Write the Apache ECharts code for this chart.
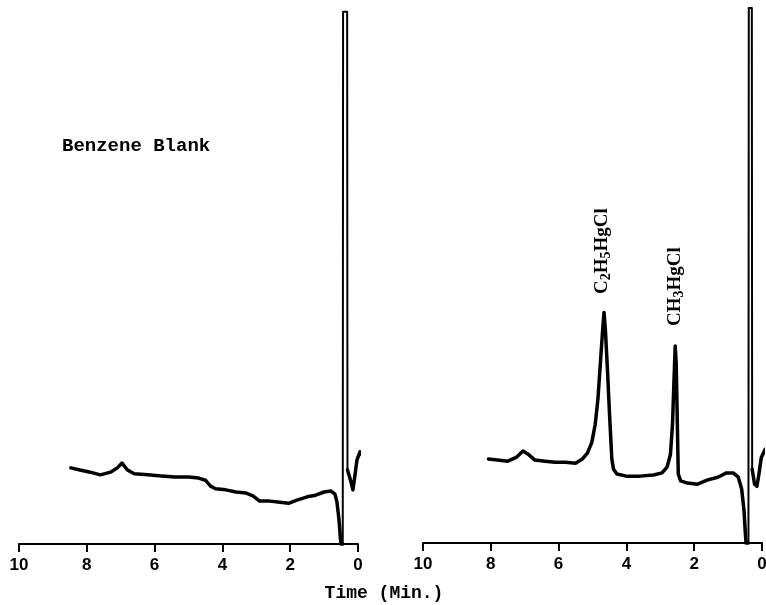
<!DOCTYPE html>
<html>
<head>
<meta charset="utf-8">
<script src="https://cdn.jsdelivr.net/npm/echarts@6/dist/echarts.min.js"></script>
<style>html,body{margin:0;padding:0;background:#fff;}#c{width:766px;height:605px;}</style>
</head>
<body>
<div id="c"></div>
<script>
// Tick labels (time, min) – axis runs from 10 down to 0
const tickValues = [10, 8, 6, 4, 2, 0];

// Left panel: Benzene Blank (time in min, detector response 0-100)
const blankTime = [8.47, 8.2, 7.9, 7.6, 7.3, 7.1, 6.96, 6.8, 6.6, 6.2, 5.8, 5.4, 5.0, 4.7, 4.5, 4.35, 4.2, 3.9, 3.6, 3.3, 3.1, 2.9, 2.6, 2.3, 2.05, 1.8, 1.5, 1.25, 1.0, 0.8, 0.68, 0.62, 0.56, 0.52, 0.50, 0.45, 0.44, 0.32, 0.31, 0.22, 0.15, 0.10, 0.03, -0.06, -0.15];
const blankResp = [14.2, 13.8, 13.4, 12.9, 13.4, 14.2, 15.1, 13.8, 13.1, 12.9, 12.7, 12.5, 12.5, 12.3, 11.9, 10.8, 10.3, 10.1, 9.7, 9.5, 9.0, 8.0, 8.0, 7.8, 7.6, 8.2, 8.8, 9.1, 9.7, 9.9, 9.3, 7.8, 4.5, 1.1, 0, 0, 99.3, 99.3, 13.8, 11.9, 10.1, 12.3, 15.7, 17.2, 16.4];

// Right panel: sample with C2H5HgCl and CH3HgCl peaks
const sampleTime = [8.07, 7.8, 7.5, 7.25, 7.05, 6.9, 6.7, 6.4, 6.1, 5.8, 5.5, 5.3, 5.15, 5.02, 4.92, 4.84, 4.76, 4.70, 4.66, 4.62, 4.56, 4.49, 4.43, 4.38, 4.28, 4.0, 3.6, 3.2, 2.95, 2.80, 2.70, 2.64, 2.60, 2.56, 2.53, 2.50, 2.47, 2.40, 2.2, 1.9, 1.6, 1.3, 1.05, 0.85, 0.70, 0.60, 0.53, 0.49, 0.47, 0.40, 0.39, 0.30, 0.29, 0.22, 0.15, 0.09, 0.02, -0.09];
const sampleResp = [15.7, 15.5, 15.3, 16.0, 17.2, 16.6, 15.5, 15.3, 15.1, 15.1, 14.9, 15.7, 16.8, 18.8, 22.2, 26.9, 34.3, 39.9, 43.1, 39.9, 32.5, 23.1, 15.7, 13.8, 12.9, 12.5, 12.5, 12.7, 13.1, 14.2, 16.6, 22.2, 29.7, 36.8, 33.4, 23.1, 12.9, 11.6, 11.2, 11.0, 11.8, 12.3, 13.1, 13.1, 12.3, 10.1, 6.0, 1.7, 0, 0, 100, 100, 13.8, 11.0, 10.6, 12.9, 16.0, 17.5];

const zip = (a, b) => a.map((v, i) => [v, b[i]]);

// split a trace into pre-spike / solvent spike / post-spike parts (spike = values above 90)
function splitTrace(t, r) {
  const pts = zip(t, r);
  const first = r.findIndex(v => v > 90);
  let last = first;
  while (last + 1 < r.length && r[last + 1] > 90) last++;
  return {
    pre: pts.slice(0, first),
    spike: pts.slice(first - 1, last + 2),
    post: pts.slice(last + 1)
  };
}
const blank = splitTrace(blankTime, blankResp);
const sample = splitTrace(sampleTime, sampleResp);

const chart = echarts.init(document.getElementById('c'), null, {renderer: 'canvas'});

const xAxisBase = (gi) => ({
  type: 'value', gridIndex: gi, inverse: true, min: 0, max: 10, interval: 2,
  axisLine: {show: true, onZero: false, lineStyle: {color: '#000', width: 2}},
  axisTick: {show: true, inside: false, length: 8, lineStyle: {color: '#000', width: 2}},
  axisLabel: {
    show: true, margin: 13, color: '#000', fontSize: 17, fontWeight: 'bold',
    fontFamily: 'Liberation Sans',
    formatter: (v) => tickValues.includes(v) ? String(v) : ''
  },
  splitLine: {show: false}
});
const yAxisBase = (gi) => ({
  type: 'value', gridIndex: gi, min: 0, max: 100, show: false,
  splitLine: {show: false}
});

const lineSeries = (gi, data, width) => ({
  type: 'line', xAxisIndex: gi, yAxisIndex: gi, data: data,
  showSymbol: false, clip: false,
  lineStyle: {color: '#000', width: width, join: 'round', cap: 'round'},
  itemStyle: {color: '#000'}
});

const rich = {
  a: {fontFamily: 'Liberation Serif', fontSize: 19, fontWeight: 'bold', fill: '#000', lineHeight: 22},
  s: {fontFamily: 'Liberation Serif', fontSize: 14, fontWeight: 'bold', fill: '#000', lineHeight: 14, verticalAlign: 'bottom'}
};

const option = {
  backgroundColor: '#fff',
  animation: false,
  grid: [
    {left: 19, width: 339, top: 8, height: 536, containLabel: false, outerBoundsMode: 'none'},
    {left: 423, width: 339, top: 8, height: 535, containLabel: false, outerBoundsMode: 'none'}
  ],
  xAxis: [xAxisBase(0), xAxisBase(1)],
  yAxis: [yAxisBase(0), yAxisBase(1)],
  series: [
    lineSeries(0, blank.pre, 3.5),
    lineSeries(0, blank.spike, 2),
    lineSeries(0, blank.post, 3.5),
    lineSeries(1, sample.pre, 3.5),
    lineSeries(1, sample.spike, 2),
    lineSeries(1, sample.post, 3.5)
  ],
  graphic: [
    {type: 'text', left: 62, top: 137,
     style: {text: 'Benzene Blank', fill: '#000', font: 'bold 19px "Liberation Mono"'}},
    {type: 'text', x: 384, y: 593,
     style: {text: 'Time (Min.)', fill: '#000', font: 'bold 18px "Liberation Mono"', align: 'center', verticalAlign: 'middle'}},
    {type: 'text', x: 602, y: 294, rotation: Math.PI / 2,
     style: {text: '{a|C}{s|2}{a|H}{s|5}{a|HgCl}', align: 'left', verticalAlign: 'middle', fill: '#000', rich: rich}},
    {type: 'text', x: 675, y: 326, rotation: Math.PI / 2,
     style: {text: '{a|CH}{s|3}{a|HgCl}', align: 'left', verticalAlign: 'middle', fill: '#000', rich: rich}}
  ]
};
chart.setOption(option);
</script>
</body>
</html>
